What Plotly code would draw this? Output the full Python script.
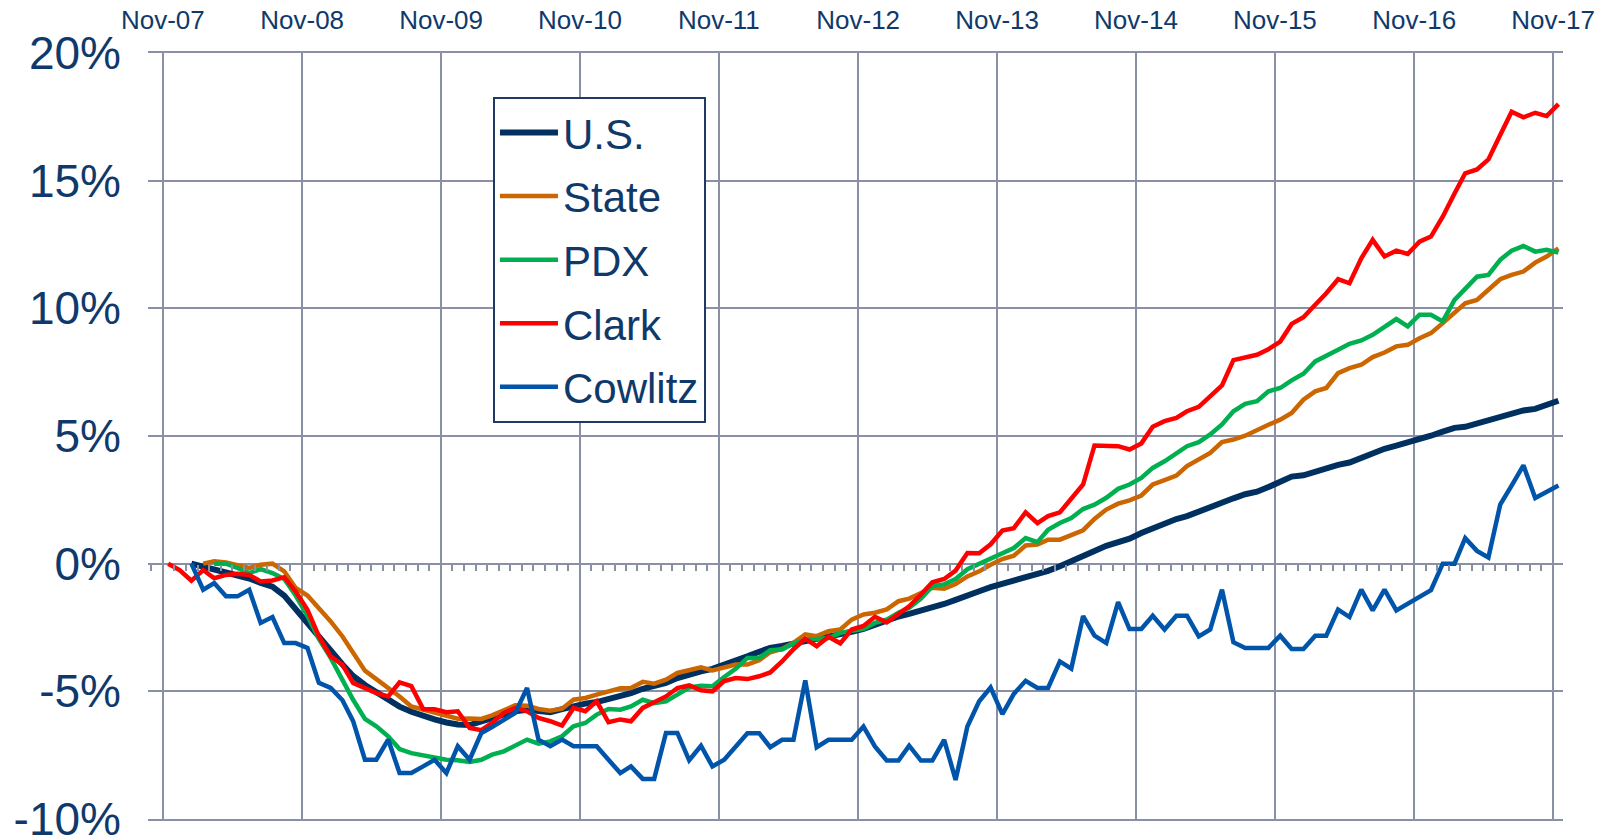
import pandas as pd
import plotly.graph_objects as go

# Monthly % change since Nov-07 (index 0 = Nov-07 ... 120 = Nov-17)
us = [None, None, 0.0, -0.12, -0.2, -0.3, -0.42, -0.58, -0.75, -0.9,
      -1.25, -1.8, -2.35, -2.85, -3.4, -3.95, -4.4, -4.75, -5.05, -5.35,
      -5.6, -5.8, -5.98, -6.1, -6.22, -6.3, -6.32, -6.2, -6.05, -5.9,
      -5.78, -5.72, -5.78, -5.82, -5.7, -5.58, -5.48, -5.42, -5.3, -5.2,
      -5.07, -4.9, -4.78, -4.67, -4.48, -4.33, -4.22, -4.12, -3.97, -3.8,
      -3.63, -3.45, -3.3, -3.22, -3.13, -3.05, -2.98, -2.88, -2.78, -2.67,
      -2.55, -2.38, -2.2, -2.07, -1.97, -1.85, -1.72, -1.58, -1.42, -1.22,
      -1.08, -0.92, -0.79, -0.7, -0.58, -0.44, -0.28, -0.1, 0.08, 0.3,
      0.5, 0.7, 0.82, 0.98, 1.2, 1.39, 1.58, 1.75, 1.86, 2.05,
      2.22, 2.38, 2.56, 2.72, 2.82, 3.0, 3.22, 3.41, 3.46, 3.6,
      3.76, 3.87, 3.96, 4.15, 4.35, 4.5, 4.62, 4.74, 4.86, 5.01,
      5.17, 5.32, 5.36, 5.5, 5.62, 5.72, 5.87, 6.0, 6.06, 6.2,
      6.38]

state = [None, None, None, 0.0, 0.09, 0.05, -0.04, -0.17, -0.04, 0.0,
         -0.3, -0.95, -1.25, -1.74, -2.26, -2.85, -3.5, -4.19, -4.52, -4.84,
         -5.2, -5.59, -5.72, -5.81, -5.95, -6.07, -6.06, -6.08, -5.94, -5.74,
         -5.55, -5.56, -5.69, -5.76, -5.68, -5.33, -5.26, -5.13, -5.0, -4.88,
         -4.87, -4.63, -4.7, -4.54, -4.28, -4.15, -4.06, -4.18, -4.08, -3.95,
         -3.95, -3.78, -3.47, -3.34, -3.1, -2.77, -2.84, -2.64, -2.58, -2.19,
         -1.99, -1.92, -1.79, -1.47, -1.37, -1.17, -0.94, -0.98, -0.8, -0.5,
         -0.3, -0.04, 0.18, 0.31, 0.71, 0.75, 0.94, 0.94, 1.1, 1.31,
         1.75, 2.12, 2.35, 2.48, 2.67, 3.1, 3.27, 3.45, 3.82, 4.08,
         4.34, 4.76, 4.86, 5.01, 5.25, 5.44, 5.64, 5.9, 6.42, 6.75,
         6.88, 7.46, 7.66, 7.79, 8.09, 8.27, 8.51, 8.57, 8.83, 9.03,
         9.42, 9.81, 10.2, 10.33, 10.72, 11.14, 11.31, 11.44, 11.79, 12.03,
         12.35]

pdx = [None, None, None, None, 0.0, 0.0, -0.17, -0.37, -0.21, -0.37,
       -0.6, -1.25, -2.04, -2.95, -3.69, -4.54, -5.33, -6.08, -6.37, -6.76,
       -7.26, -7.42, -7.52, -7.61, -7.68, -7.7, -7.77, -7.68, -7.48, -7.35,
       -7.13, -6.89, -7.05, -6.96, -6.76, -6.37, -6.24, -5.91, -5.69, -5.72,
       -5.59, -5.33, -5.46, -5.39, -5.13, -4.85, -4.78, -4.8, -4.44, -4.12,
       -3.69, -3.69, -3.39, -3.36, -3.13, -2.97, -2.95, -2.91, -2.71, -2.64,
       -2.55, -2.32, -2.19, -1.92, -1.73, -1.37, -0.88, -0.81, -0.6, -0.22,
       0.0, 0.2, 0.44, 0.61, 1.0, 0.84, 1.33, 1.59, 1.79, 2.14,
       2.31, 2.58, 2.93, 3.1, 3.36, 3.75, 4.01, 4.34, 4.6, 4.76,
       5.06, 5.45, 5.97, 6.26, 6.36, 6.75, 6.88, 7.18, 7.44, 7.92,
       8.12, 8.38, 8.61, 8.74, 8.96, 9.29, 9.58, 9.29, 9.75, 9.75,
       9.49, 10.33, 10.79, 11.24, 11.31, 11.9, 12.26, 12.44, 12.22, 12.29,
       12.18]

clark = [0.0, -0.25, -0.67, -0.25, -0.57, -0.44, -0.4, -0.44, -0.7, -0.66,
         -0.53, -1.09, -1.81, -2.85, -3.63, -3.96, -4.67, -4.87, -5.07, -5.2,
         -4.65, -4.8, -5.69, -5.7, -5.82, -5.78, -6.43, -6.52, -6.24, -5.85,
         -5.65, -5.78, -6.04, -6.17, -6.34, -5.65, -5.78, -5.39, -6.21, -6.1,
         -6.17, -5.65, -5.43, -5.2, -4.87, -4.77, -4.96, -5.0, -4.6, -4.48,
         -4.52, -4.41, -4.26, -3.83, -3.35, -2.94, -3.23, -2.86, -3.12, -2.58,
         -2.44, -2.08, -2.3, -1.97, -1.67, -1.21, -0.73, -0.6, -0.27, 0.42,
         0.41, 0.76, 1.3, 1.39, 2.01, 1.59, 1.86, 2.01, 2.58, 3.1,
         4.63, 4.6, 4.6, 4.47, 4.71, 5.36, 5.58, 5.71, 5.97, 6.14,
         6.54, 6.98, 7.97, 8.08, 8.18, 8.4, 8.7, 9.39, 9.65, 10.14,
         10.59, 11.14, 10.98, 11.96, 12.68, 12.03, 12.26, 12.13, 12.61, 12.81,
         13.59, 14.5, 15.29, 15.44, 15.83, 16.79, 17.7, 17.48, 17.66, 17.53,
         18.0]

cowlitz = [None, None, 0.0, -1.02, -0.76, -1.28, -1.28, -1.02, -2.32, -2.09,
           -3.11, -3.11, -3.3, -4.67, -4.87, -5.35, -6.17, -7.68, -7.68, -6.89,
           -8.2, -8.2, -7.94, -7.68, -8.2, -7.15, -7.68, -6.63, -6.4, -6.11,
           -5.85, -4.87, -6.89, -7.15, -6.89, -7.15, -7.15, -7.15, -7.68, -8.2,
           -7.94, -8.43, -8.43, -6.63, -6.63, -7.7, -7.13, -7.94, -7.68, -7.16,
           -6.64, -6.64, -7.19, -6.9, -6.9, -4.57, -7.19, -6.9, -6.9, -6.9,
           -6.38, -7.16, -7.71, -7.71, -7.13, -7.71, -7.71, -6.9, -8.47, -6.38,
           -5.39, -4.85, -5.89, -5.1, -4.59, -4.87, -4.87, -3.83, -4.11, -2.05,
           -2.82, -3.11, -1.51, -2.56, -2.56, -2.04, -2.58, -2.04, -2.04, -2.85,
           -2.58, -1.02, -3.08, -3.3, -3.3, -3.3, -2.82, -3.34, -3.34, -2.82,
           -2.82, -1.8, -2.09, -1.02, -1.83, -1.02, -1.83, -1.57, -1.31, -1.04,
           0.0, 0.0, 1.0, 0.5, 0.24, 2.31, 3.06, 3.85, 2.57, 2.83,
           3.06]

series_names = ["U.S.", "State", "PDX", "Clark", "Cowlitz"]
series_values = [us, state, pdx, clark, cowlitz]
series_colors = ["#00305F", "#CC6600", "#00B050", "#FF0000", "#0055AA"]
series_widths = [6, 4.5, 4.5, 4.5, 4.5]

x_tick_labels = ["Nov-07", "Nov-08", "Nov-09", "Nov-10", "Nov-11", "Nov-12",
                 "Nov-13", "Nov-14", "Nov-15", "Nov-16", "Nov-17"]
y_tick_values = [-10, -5, 0, 5, 10, 15, 20]
y_tick_labels = ["-10%", "-5%", "0%", "5%", "10%", "15%", "20%"]

months = pd.date_range(start="2007-11-01", periods=121, freq="MS") + pd.Timedelta(days=14)
tick_dates = pd.date_range(start="2007-11-01", periods=11, freq="12MS")

TEXT = "#10396B"
GRID = "#8A90A3"
FONT = "Liberation Sans, Arial, sans-serif"
x_range = ["2007-09-23", "2017-11-27"]

fig = go.Figure()
for name, vals, col, w in zip(series_names, series_values, series_colors, series_widths):
    fig.add_trace(go.Scatter(
        x=months, y=vals, name=name, mode="lines",
        line=dict(color=col, width=w), legendgroup=name,
        connectgaps=False,
    ))

# helper trace for the monthly tick axis on the zero line
fig.add_trace(go.Scatter(x=months[:1], y=[None], xaxis="x2", yaxis="y",
                         showlegend=False, hoverinfo="skip"))

fig.update_layout(
    width=1616, height=838,
    margin=dict(l=148, r=53, t=53, b=19),
    paper_bgcolor="white", plot_bgcolor="white",
    font=dict(family=FONT, color=TEXT),
    xaxis=dict(
        type="date", range=x_range, side="top", automargin=False,
        tickmode="array", tickvals=tick_dates, ticktext=x_tick_labels,
        tickfont=dict(size=26, color=TEXT), ticks="", ticklabelstandoff=12,
        ticklabeloverflow="allow",
        showgrid=True, gridcolor=GRID, gridwidth=2,
        showline=True, mirror=True, linecolor=GRID, linewidth=2,
        zeroline=False,
    ),
    xaxis2=dict(
        type="date", range=x_range, overlaying="x", anchor="free",
        position=1/3, side="bottom", automargin=False,
        tickmode="linear", tick0="2007-11-01", dtick="M1",
        ticks="outside", ticklen=6, tickwidth=1.5, tickcolor=GRID,
        showticklabels=False, showgrid=False, showline=False, zeroline=False,
    ),
    yaxis=dict(
        range=[-10, 20], automargin=False,
        tickmode="array", tickvals=y_tick_values, ticktext=y_tick_labels,
        tickfont=dict(size=46, color=TEXT),
        ticks="", ticklabelstandoff=26, ticklabeloverflow="allow",
        showgrid=True, gridcolor=GRID, gridwidth=2,
        zeroline=True, zerolinecolor=GRID, zerolinewidth=2,
        showline=False,
    ),
    legend=dict(
        x=0.2438, y=0.943, xanchor="left", yanchor="top",
        bgcolor="white", bordercolor="#1F3864", borderwidth=2,
        font=dict(size=42, color=TEXT, family=FONT),
        traceorder="grouped", tracegroupgap=6, itemwidth=58,
    ),
    showlegend=True,
)

fig.write_html("out.html",
               config={"displayModeBar": False},
               post_script="document.body.style.margin='0';document.body.style.overflow='hidden';")
